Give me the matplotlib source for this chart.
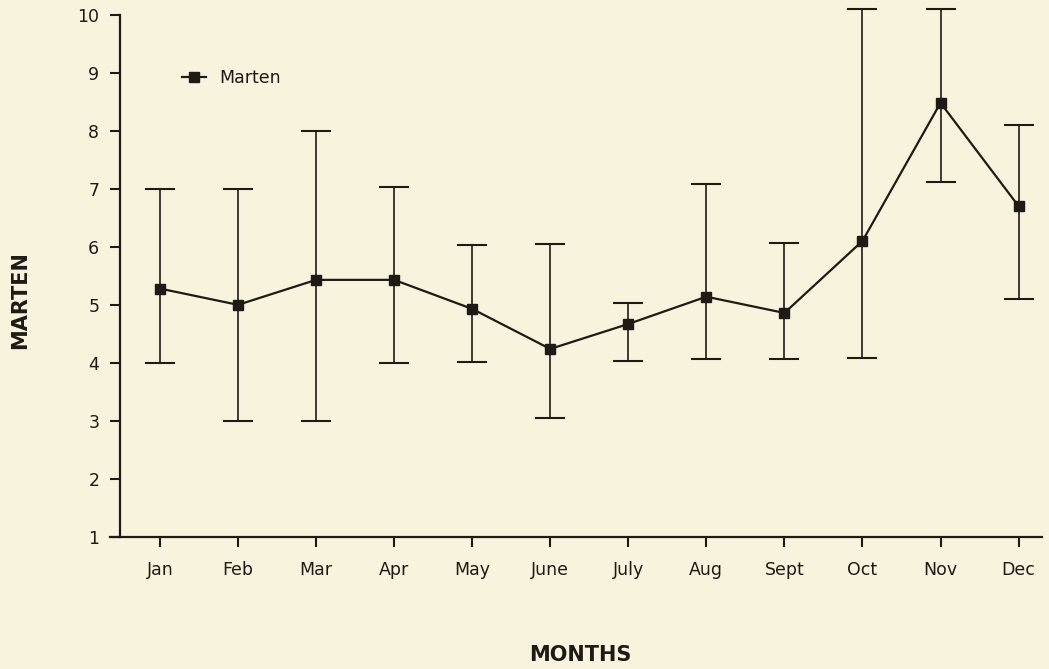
import matplotlib.pyplot as plt
from matplotlib.lines import Line2D
import numpy as np

# donnees
mois = ["Jan", "Feb", "Mar", "Apr", "May", "June", "July", "Aug", "Sept", "Oct", "Nov", "Dec"]
moyenne = [5.28, 5.0, 5.43, 5.43, 4.93, 4.24, 4.67, 5.14, 4.86, 6.1, 8.48, 6.7]
haut = [7.0, 7.0, 8.0, 7.03, 6.03, 6.04, 5.04, 7.08, 6.07, 10.1, 10.1, 8.1]
bas = [4.0, 3.0, 3.0, 4.0, 4.02, 3.05, 4.04, 4.06, 4.07, 4.08, 7.12, 5.1]

fond = "#f8f3dc"
encre = "#1e1a16"

x = np.arange(len(mois))
moy = np.array(moyenne)
err = [moy - np.array(bas), np.array(haut) - moy]

fig = plt.figure(figsize=(10.49, 6.69), dpi=100, facecolor=fond)
ax = fig.add_axes([110/1049, 132/669, (1042-110)/1049, (537-3)/669])
ax.set_facecolor(fond)

ax.errorbar(x, moy, yerr=err, color=encre, lw=1.6, marker="s", ms=7,
            ecolor=encre, elinewidth=1.2, capsize=11, capthick=1.5,
            zorder=3)

ax.set_xlim(-0.64, 11.3)
ax.set_ylim(1, 10.2)
ax.spines["top"].set_visible(False)
ax.spines["right"].set_visible(False)
ax.spines["left"].set_position(("data", -0.51))
ax.spines["left"].set_bounds(1, 10)
for c in ["left", "bottom"]:
    ax.spines[c].set_linewidth(1.6)
    ax.spines[c].set_color(encre)

ax.set_xticks(x)
ax.set_xticklabels(mois)
ax.set_yticks(range(1, 11))
ax.tick_params(axis="both", colors=encre, labelsize=12.5, width=1.5, length=7)
ax.tick_params(axis="x", pad=10)
ax.tick_params(axis="y", pad=8)

fig.text(20/1049, 1 - 300/669, "MARTEN", rotation=90, ha="center", va="center",
         fontsize=15, fontweight="bold", color=encre)
fig.text(580/1049, 1 - 655/669, "MONTHS", ha="center", va="center",
         fontsize=15, fontweight="bold", color=encre)

# legende : seulement la ligne et le carre
poignee = Line2D([], [], color=encre, lw=1.6, marker="s", ms=7)
ax.legend([poignee], ["Marten"], loc="upper left", bbox_to_anchor=(0.06, 0.905),
          frameon=False, fontsize=12.5, handlelength=1.4, labelcolor=encre)

fig.savefig("out.png", dpi=100, facecolor=fond)
